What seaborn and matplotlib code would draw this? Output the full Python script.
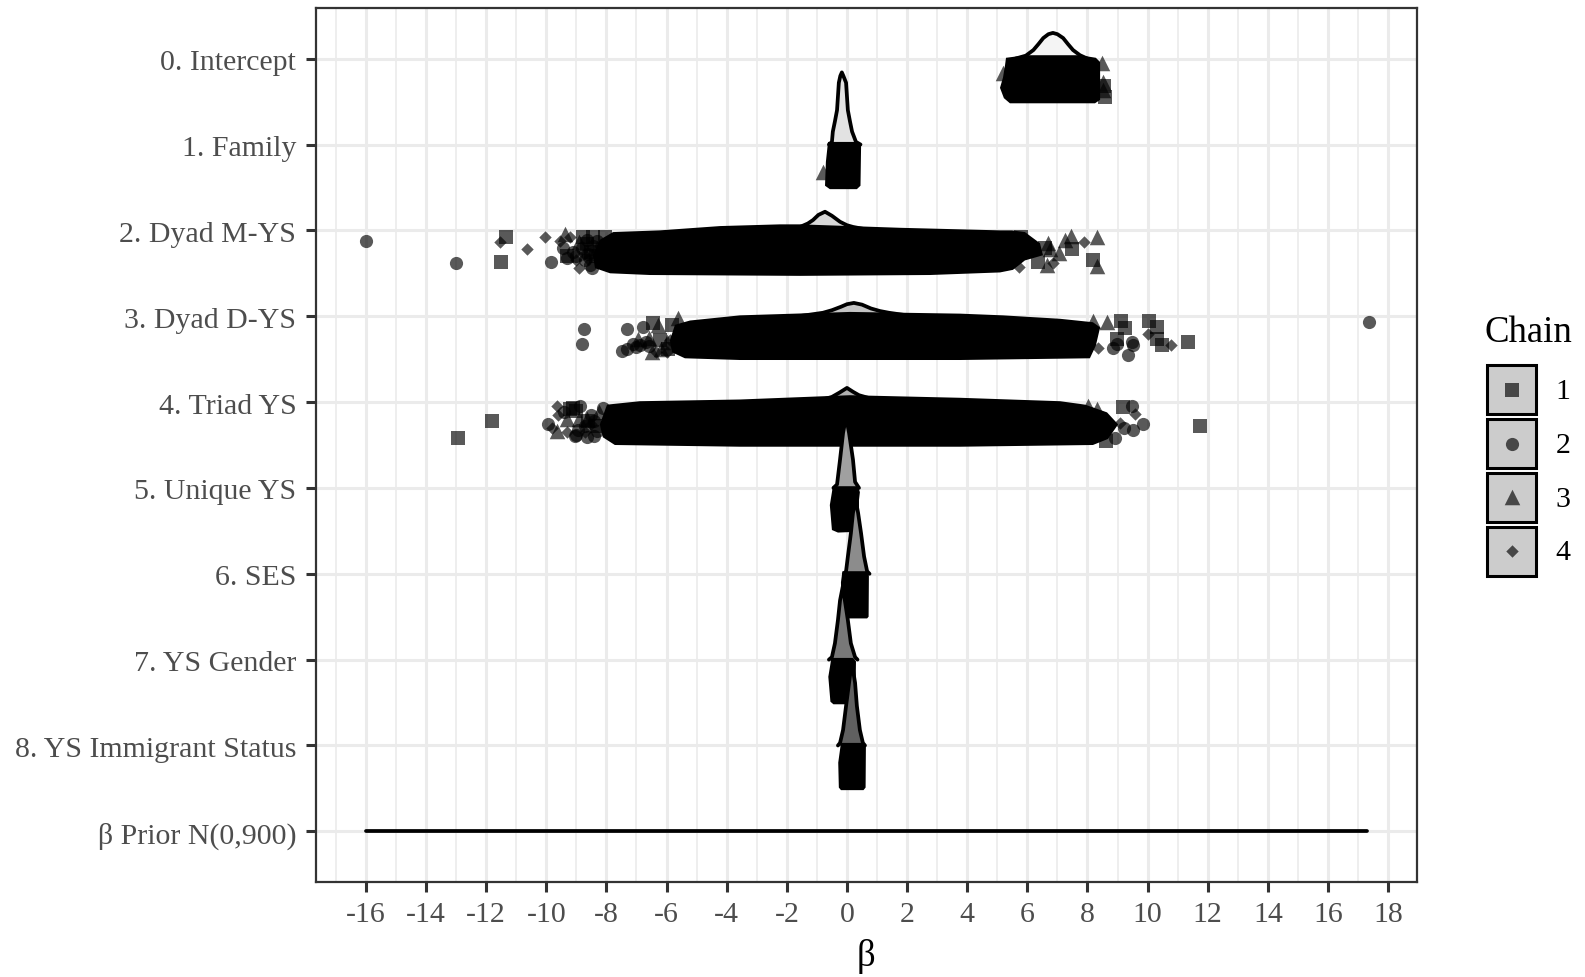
#!/usr/bin/env python3
"""Ridgeline of posterior betas with jittered draws per chain, greyscale."""

import matplotlib.pyplot as plt
import numpy as np
import pandas as pd
import seaborn as sns
from matplotlib.patches import Rectangle
from matplotlib.transforms import ScaledTranslation

row_labels = [
    "0. Intercept", "1. Family", "2. Dyad M-YS", "3. Dyad D-YS", "4. Triad YS",
    "5. Unique YS", "6. SES", "7. YS Gender", "8. YS Immigrant Status",
    "β Prior N(0,900)",
]
x_ticks = list(range(-16, 19, 2))
chain_labels = ["1", "2", "3", "4"]

# density curves: beta / height in row units
dens0_x = [5.6, 5.95, 6.2, 6.37, 6.53, 6.7, 6.85, 7.0, 7.19, 7.35, 7.52, 7.75, 8.0]
dens0_h = [0.0, 0.035, 0.10, 0.17, 0.24, 0.285, 0.30, 0.285, 0.24, 0.17, 0.10, 0.04, 0.0]
dens1_x = [-0.6, -0.5, -0.47, -0.40, -0.33, -0.27, -0.22, -0.17, -0.12, -0.03, 0.03, 0.10, 0.17, 0.30, 0.45]
dens1_h = [0.0, 0.03, 0.15, 0.27, 0.40, 0.72, 0.80, 0.84, 0.80, 0.72, 0.40, 0.27, 0.15, 0.03, 0.0]
dens2_x = [-2.2, -1.56, -1.3, -1.13, -0.95, -0.73, -0.5, -0.23, 0.0, 0.2, 0.8]
dens2_h = [0.0, 0.04, 0.08, 0.12, 0.18, 0.217, 0.17, 0.10, 0.06, 0.04, 0.0]
dens3_x = [-1.6, -0.8, -0.5, -0.2, 0.0, 0.23, 0.5, 0.8, 1.1, 1.4, 2.2]
dens3_h = [0.0, 0.04, 0.07, 0.11, 0.14, 0.155, 0.135, 0.09, 0.06, 0.04, 0.0]
dens4_x = [-1.6, -0.9, -0.5, -0.25, 0.0, 0.2, 0.4, 0.9, 1.5, 2.2]
dens4_h = [0.0, 0.02, 0.06, 0.11, 0.165, 0.12, 0.08, 0.03, 0.015, 0.0]
dens5_x = [-0.45, -0.33, -0.23, -0.13, -0.03, 0.07, 0.2, 0.27, 0.4]
dens5_h = [0.0, 0.04, 0.33, 0.64, 0.83, 0.64, 0.33, 0.07, 0.0]
dens6_x = [-0.1, -0.03, 0.03, 0.13, 0.2, 0.29, 0.37, 0.47, 0.57, 0.67, 0.75]
dens6_h = [0.0, 0.03, 0.2, 0.47, 0.71, 0.86, 0.71, 0.47, 0.2, 0.03, 0.0]
dens7_x = [-0.6, -0.5, -0.4, -0.3, -0.23, -0.14, -0.07, 0.03, 0.13, 0.27, 0.35]
dens7_h = [0.0, 0.03, 0.19, 0.46, 0.69, 0.85, 0.69, 0.46, 0.19, 0.03, 0.0]
dens8_x = [-0.3, -0.23, -0.13, -0.03, 0.07, 0.16, 0.27, 0.33, 0.43, 0.53, 0.6]
dens8_h = [0.0, 0.03, 0.18, 0.46, 0.73, 0.97, 0.73, 0.46, 0.18, 0.03, 0.0]
dens9_x = [-16.0, -8.0, 0.0, 8.0, 17.3]
dens9_h = [0.0, 0.0, 0.0, 0.0, 0.0]

# outline of the solid mass of overplotted draws: beta / offset under the row
cloud0_x = [5.29, 5.95, 7.75, 8.28, 8.42, 8.42, 8.25, 5.42, 5.22, 5.09, 5.19, 5.26]
cloud0_o = [-0.01, -0.04, -0.04, -0.01, 0.04, 0.48, 0.52, 0.52, 0.46, 0.34, 0.22, 0.07]
cloud1_x = [-0.63, 0.37, 0.47, 0.45, 0.33, -0.57, -0.73, -0.70]
cloud1_o = [-0.03, -0.03, 0.015, 0.48, 0.52, 0.52, 0.48, 0.2]
cloud2_x = [-8.45, -8.22, -7.78, -6.22, -4.22, -2.23, -1.56, 0.10, 1.76, 5.09, 5.49,
            5.92, 6.42, 6.52, 5.92, 5.52, 5.09, 2.76, -1.56, -6.55, -7.88, -8.38]
cloud2_o = [0.29, 0.11, 0.02, 0.0, -0.05, -0.07, -0.07, -0.05, -0.03, 0.0, 0.0,
            0.02, 0.15, 0.29, 0.35, 0.46, 0.49, 0.52, 0.53, 0.52, 0.50, 0.44]
cloud3_x = [-5.89, -5.72, -5.22, -3.56, 0.10, 3.76, 5.19, 7.09, 8.18, 8.42, 8.28,
            8.08, 3.76, -3.56, -5.39, -5.82]
cloud3_o = [0.28, 0.10, 0.05, -0.01, -0.05, -0.03, -0.01, 0.03, 0.07, 0.13, 0.34,
            0.49, 0.51, 0.51, 0.49, 0.42]
cloud4_x = [-8.22, -7.98, -6.89, -3.56, 0.10, 3.76, 7.09, 7.92, 8.65, 9.02, 8.68,
            8.18, 3.76, -3.56, -7.72, -8.12]
cloud4_o = [0.26, 0.03, -0.01, -0.03, -0.08, -0.05, -0.01, 0.03, 0.12, 0.26, 0.43,
            0.50, 0.52, 0.52, 0.50, 0.41]
cloud5_x = [-0.47, 0.37, 0.43, 0.40, 0.40, -0.30, -0.5, -0.57, -0.5]
cloud5_o = [-0.02, -0.02, 0.05, 0.14, 0.51, 0.52, 0.49, 0.20, 0.05]
cloud6_x = [-0.15, 0.65, 0.73, 0.72, 0.67, -0.1, -0.17, -0.2]
cloud6_o = [-0.03, -0.03, 0.02, 0.50, 0.52, 0.52, 0.49, 0.10]
cloud7_x = [-0.52, 0.2, 0.3, 0.28, 0.2, -0.45, -0.55, -0.62, -0.55]
cloud7_o = [-0.02, -0.02, 0.02, 0.50, 0.52, 0.52, 0.49, 0.2, 0.05]
cloud8_x = [-0.2, 0.55, 0.63, 0.62, 0.55, -0.2, -0.27, -0.29]
cloud8_o = [-0.03, -0.03, 0.02, 0.49, 0.52, 0.52, 0.49, 0.2]

# individual draws that stand clear of the mass: beta / row + offset
chain1_x = [8.58, 8.55, -11.34, -11.5, -8.78, -8.45, -8.05, 7.48, 8.2, 6.35, 5.8, -9.3,
            -8.65, -8.5, -8.35, 6.6,
            -6.45, -6.22, -5.82, 9.11, 9.25, 10.05, 10.31, 10.31, 10.48, 11.34, 8.98, -5.95,
            -11.81, -12.94, -9.11, 9.18, 11.74, -9.2, -9.0, -8.6, -8.3, 8.6]
chain1_y = [0.45, 0.32, 2.08, 2.37, 2.08, 2.08, 2.08, 2.22, 2.35, 2.37, 2.08, 2.3,
            2.16, 2.25, 2.3, 2.2,
            3.08, 3.28, 3.10, 3.06, 3.14, 3.06, 3.13, 3.26, 3.34, 3.30, 3.26, 3.38,
            4.22, 4.42, 4.07, 4.06, 4.28, 4.08, 4.1, 4.22, 4.28, 4.45]
chain2_x = [-16.0, -13.0, -9.85, -9.45, -9.3, -9.1, -8.65, -8.48,
            -9.0, -8.8, -8.7, -8.6, -8.45, -8.55, -8.3,
            -8.75, -8.8, -7.32, -7.49, -7.12, -6.79, -6.89, 17.37, 8.85, 9.35, 9.51, 9.48, 8.98,
            -7.3, -7.0, -6.7, -6.6,
            -9.95, -9.05, -8.65, -8.95, -8.32, -8.88, -8.12, 9.48, 9.85, 9.51,
            -9.4, -9.0, -8.7, -8.4, -8.4, -8.5, 9.2, 8.9]
chain2_y = [2.12, 2.385, 2.37, 2.21, 2.32, 2.25, 2.11, 2.44,
            2.3, 2.2, 2.35, 2.27, 2.18, 2.4, 2.12,
            3.15, 3.32, 3.15, 3.40, 3.32, 3.13, 3.34, 3.07, 3.37, 3.45, 3.34, 3.30, 3.32,
            3.38, 3.36, 3.3, 3.35,
            4.26, 4.40, 4.41, 4.32, 4.34, 4.05, 4.07, 4.05, 4.25, 4.33,
            4.12, 4.38, 4.28, 4.4, 4.22, 4.15, 4.3, 4.42]
chain3_x = [8.48, 8.52, 8.52, 5.2, -0.8, -9.38, 7.45, 8.3, 7.25, 7.05, 6.65, 8.3, 6.7,
            -8.9, -8.3, 6.75,
            -6.95, -6.29, -6.49, -5.62, 8.65, 8.18, -6.6, -6.2, -6.0,
            -9.65, -8.65, 8.02, 8.3, -9.3, -8.9, -8.25]
chain3_y = [0.05, 0.27, 0.36, 0.17, 1.32, 2.04, 2.06, 2.08, 2.11, 2.26, 2.40, 2.42, 2.15,
            2.14, 2.2, 2.22,
            3.26, 3.10, 3.42, 3.02, 3.07, 3.05, 3.25, 3.38, 3.3,
            4.34, 4.20, 4.05, 4.08, 4.2, 4.2, 4.12]
chain4_x = [-11.54, -10.05, -10.65, -9.55, -9.2, -8.9, 7.88, 5.72, 6.85, -9.0, -8.75, -8.6,
            -5.99, 10.01, 10.78, 8.35, -5.9, -6.35,
            -9.65, -9.81, 9.58, 9.08, -9.6, -9.3, -8.7, -8.5]
chain4_y = [2.14, 2.08, 2.22, 2.12, 2.08, 2.44, 2.14, 2.43, 2.38, 2.35, 2.28, 2.33,
            3.42, 3.21, 3.34, 3.37, 3.28, 3.42,
            4.05, 4.30, 4.14, 4.24, 4.15, 4.35, 4.35, 4.25]

DENSITIES = [
    (dens0_x, dens0_h), (dens1_x, dens1_h), (dens2_x, dens2_h), (dens3_x, dens3_h),
    (dens4_x, dens4_h), (dens5_x, dens5_h), (dens6_x, dens6_h), (dens7_x, dens7_h),
    (dens8_x, dens8_h), (dens9_x, dens9_h),
]
CLOUDS = [
    (cloud0_x, cloud0_o), (cloud1_x, cloud1_o), (cloud2_x, cloud2_o), (cloud3_x, cloud3_o),
    (cloud4_x, cloud4_o), (cloud5_x, cloud5_o), (cloud6_x, cloud6_o), (cloud7_x, cloud7_o),
    (cloud8_x, cloud8_o),
]
FILLS = ["#f4f4f4", "#e2e2e2", "#d8d8d8", "#c4c4c4", "#b0b0b0",
         "#a0a0a0", "#8c8c8c", "#787878", "#606060", "#404040"]
MARKERS = {"1": "s", "2": "o", "3": "^", "4": "D"}
SIZES = {"1": 88, "2": 90, "3": 125, "4": 40}
TEXT_GREY = "#4d4d4d"
FONT_SMALL = 21.5
FONT_LARGE = 26.5

sns.set_theme(style="white")
plt.rcParams["font.family"] = ["Liberation Serif", "DejaVu Serif"]

draws = pd.concat(
    [
        pd.DataFrame({"beta": x, "y": y, "chain": c})
        for x, y, c in zip(
            [chain1_x, chain2_x, chain3_x, chain4_x],
            [chain1_y, chain2_y, chain3_y, chain4_y],
            chain_labels,
        )
    ],
    ignore_index=True,
)
draws["row"] = np.floor(draws["y"] + 0.1).astype(int)

W, H = 1585, 977
fig = plt.figure(figsize=(W / 100, H / 100), dpi=100)
ax = fig.add_axes([316 / W, (H - 882) / H, 1101 / W, 874 / H])

for r, (dx, dh) in enumerate(DENSITIES):
    z = 3 + 2 * r
    curve = pd.DataFrame({"beta": dx, "y": r - np.array(dh)})
    ax.fill_between(curve["beta"], r, curve["y"], color=FILLS[r], lw=0, zorder=z)
    sns.lineplot(data=curve, x="beta", y="y", sort=False, estimator=None, color="black",
                 lw=2.7, solid_joinstyle="round", ax=ax, zorder=z + 0.1, legend=False)
    if r < len(CLOUDS):
        cx, co = CLOUDS[r]
        ax.fill(cx, r + np.array(co), color="black", lw=0, zorder=z + 0.2)
    for chain in chain_labels:
        pts = draws[(draws["row"] == r) & (draws["chain"] == chain)]
        if pts.empty:
            continue
        sns.scatterplot(data=pts, x="beta", y="y", marker=MARKERS[chain], s=SIZES[chain],
                        color="black", alpha=0.65, linewidth=0, ax=ax,
                        zorder=z + 0.3, legend=False)

ax.set_xlim(-17.66, 18.96)
ax.set_ylim(9.59, -0.59)
ax.set_xticks(x_ticks)
ax.set_xticks(list(range(-17, 19, 2)), minor=True)
ax.set_xticklabels([str(t) for t in x_ticks])
ax.set_yticks(range(len(row_labels)))
ax.set_yticklabels(row_labels)
ax.set_axisbelow(True)
ax.grid(True, which="major", color="#ebebeb", lw=2.2)
ax.grid(True, which="minor", axis="x", color="#ebebeb", lw=1.2)
ax.tick_params(axis="both", which="major", length=7.2, width=2.2, color="#333333",
               labelsize=FONT_SMALL, labelcolor=TEXT_GREY, pad=7, left=True, bottom=True)
ax.tick_params(axis="x", which="minor", length=0)
# the row labels sit a touch lower than matplotlib centres them
nudge = ScaledTranslation(0, -1.5 / 100, fig.dpi_scale_trans)
for lab in ax.get_yticklabels():
    lab.set_transform(lab.get_transform() + nudge)
for spine in ax.spines.values():
    spine.set_color("#333333")
    spine.set_linewidth(1.6)
    spine.set_zorder(40)
ax.set_xlabel("")
ax.set_ylabel("")
fig.text(866 / W, 1 - 957 / H, "β", ha="center", va="center", fontsize=FONT_LARGE, color="black")

# legend keys, grey boxes with a chain marker in each
fig.text(1485 / W, 1 - 333 / H, "Chain", ha="left", va="center", fontsize=FONT_LARGE, color="black")
lax = fig.add_axes([1486 / W, (H - 578) / H, 51 / W, 215 / H])
lax.set_xlim(0, 1)
lax.set_ylim(3.5, -0.5)
lax.axis("off")
for i, chain in enumerate(chain_labels):
    lax.add_patch(Rectangle((0.02, i - 0.455), 0.96, 0.91, fc="#cccccc", ec="black", lw=2.2,
                            clip_on=False))
    key = pd.DataFrame({"x": [0.5], "y": [i]})
    sns.scatterplot(data=key, x="x", y="y", marker=MARKERS[chain], s=SIZES[chain],
                    color="black", alpha=0.65, linewidth=0, ax=lax, zorder=5,
                    legend=False, clip_on=False)
    lax.text(1.51, i + 0.04, chain, ha="center", va="center", fontsize=FONT_SMALL, color="black",
             clip_on=False)

fig.savefig("out.png", dpi=100)
plt.close(fig)
